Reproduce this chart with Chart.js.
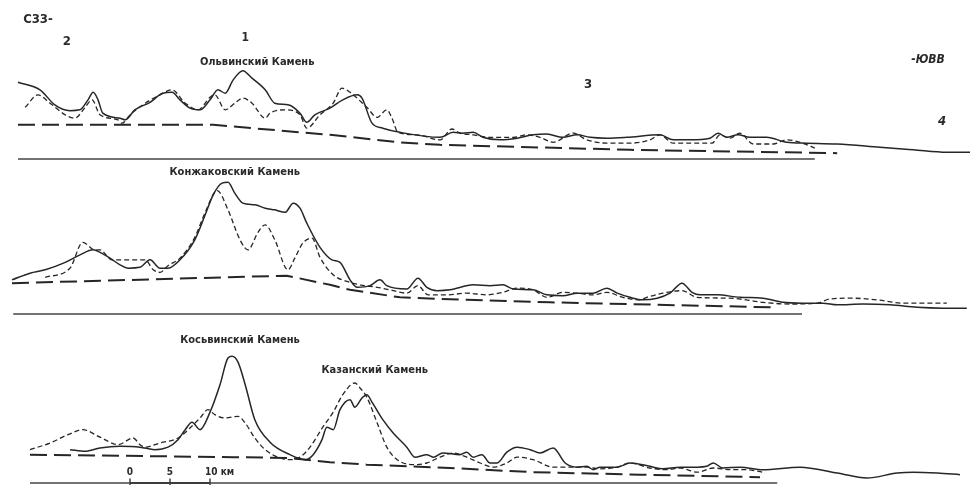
<!DOCTYPE html>
<html>
<head>
<meta charset="utf-8">
<script src="https://cdn.jsdelivr.net/npm/chart.js@4"></script>
<style>
  html, body { margin: 0; padding: 0; background: #fff; }
  #wrap { position: relative; width: 972px; height: 486px; }
</style>
</head>
<body>
<div id="wrap"><canvas id="profiles" width="972" height="486"></canvas></div>
<script>
'use strict';

/* Distance along profile (km) and height above sea level (m) */

// Profile 1 – Ольвинский Камень
const p1SolidKm = [1.0, 3.75, 5.6, 7.5, 8.75, 9.75, 10.4, 11.0, 11.6, 13.75, 14.4, 15.6, 17.5, 19.1, 20.25, 21.25, 22.5, 23.75, 25.0, 26.0, 26.9, 27.9, 29.1, 30.25, 31.9, 33.1, 34.75, 36.25, 37.1, 38.1, 40.0, 41.6, 43.4, 44.0, 45.25, 46.6, 48.75, 53.75, 55.4, 56.6, 57.9, 59.1, 61.25, 63.4, 65.4, 67.1, 69.1, 70.9, 72.5, 74.6, 77.1, 81.25, 82.9, 85.0, 87.5, 88.5, 89.6, 91.0, 92.5, 94.6, 97.1, 99.6, 103.4, 108.75, 112.9, 117.1, 120.0];
const p1SolidM  = [920, 830, 650, 580, 590, 710, 800, 710, 550, 490, 470, 590, 680, 790, 800, 710, 610, 590, 710, 830, 790, 950, 1060, 970, 830, 670, 650, 550, 440, 530, 610, 710, 770, 730, 430, 370, 320, 260, 320, 310, 320, 260, 230, 250, 290, 300, 260, 290, 260, 250, 260, 290, 230, 230, 250, 310, 260, 290, 260, 260, 200, 190, 180, 140, 110, 80, 80];
const p1DashKm  = [1.9, 3.5, 5.0, 6.9, 8.1, 9.4, 10.25, 11.25, 13.5, 14.0, 15.0, 16.9, 18.75, 20.25, 21.9, 23.5, 25.0, 25.6, 26.9, 28.1, 29.1, 30.25, 31.9, 32.5, 34.4, 36.25, 37.1, 38.75, 40.4, 41.5, 42.5, 44.6, 45.9, 47.1, 47.75, 48.5, 50.9, 53.75, 55.25, 56.25, 57.9, 60.0, 62.9, 64.6, 66.25, 67.9, 70.4, 72.1, 74.6, 77.5, 80.0, 81.25, 82.9, 87.75, 88.75, 90.0, 91.25, 92.9, 95.4, 97.1, 99.1, 100.6];
const p1DashM   = [620, 770, 670, 530, 490, 620, 710, 530, 470, 430, 530, 670, 770, 830, 670, 590, 740, 770, 590, 670, 730, 670, 490, 550, 590, 530, 370, 530, 670, 850, 800, 620, 500, 590, 490, 320, 290, 230, 360, 310, 290, 260, 260, 290, 260, 200, 310, 230, 190, 190, 230, 290, 190, 190, 290, 250, 310, 180, 180, 230, 190, 130];
const p1BaseKm  = [1.0, 25.4, 40.0, 48.75, 53.75, 77.5, 103.4];
const p1BaseM   = [410, 410, 290, 200, 170, 110, 70];
const p1SeaKm   = [1.0, 100.6];

// Profile 2 – Конжаковский Камень
const p2SolidKm = [0.25, 2.5, 4.4, 6.9, 8.75, 10.4, 11.25, 12.5, 13.75, 14.75, 16.25, 17.5, 18.75, 19.75, 21.25, 23.1, 24.4, 25.4, 26.5, 27.25, 28.1, 29.1, 30.6, 31.9, 33.1, 34.4, 35.4, 36.25, 37.1, 38.75, 40.25, 41.25, 42.5, 43.4, 45.0, 46.25, 47.1, 49.6, 51.0, 52.1, 53.4, 55.0, 57.9, 60.0, 61.6, 62.9, 65.4, 67.1, 69.1, 70.9, 72.9, 74.6, 75.9, 77.5, 79.1, 80.9, 82.5, 84.0, 85.25, 86.25, 88.4, 91.25, 94.1, 96.6, 99.1, 101.6, 103.4, 106.6, 110.0, 113.4, 116.6, 119.6];
const p2SolidM  = [410, 490, 530, 620, 710, 770, 740, 670, 590, 550, 560, 650, 550, 550, 650, 890, 1190, 1430, 1570, 1580, 1450, 1330, 1310, 1270, 1250, 1220, 1330, 1270, 1090, 800, 650, 620, 410, 320, 340, 410, 340, 300, 430, 320, 280, 290, 350, 340, 350, 300, 290, 230, 220, 250, 250, 310, 250, 200, 170, 190, 250, 370, 260, 230, 230, 200, 190, 140, 130, 130, 110, 120, 110, 80, 70, 70];
const p2DashKm  = [4.4, 7.5, 9.1, 10.6, 11.25, 12.75, 14.4, 16.9, 17.9, 18.75, 19.75, 21.25, 23.1, 24.4, 25.9, 27.25, 28.75, 29.75, 31.0, 31.9, 33.1, 34.75, 35.6, 36.6, 37.75, 38.75, 40.4, 42.5, 43.75, 45.9, 47.5, 49.6, 51.0, 52.25, 54.6, 57.1, 59.6, 61.6, 63.4, 65.4, 67.1, 69.1, 70.9, 72.9, 74.6, 76.6, 78.75, 79.6, 81.6, 84.0, 85.9, 90.0, 94.1, 97.5, 100.9, 102.5, 105.0, 108.4, 111.6, 117.1];
const p2DashM   = [440, 550, 860, 770, 770, 650, 650, 650, 530, 500, 580, 670, 920, 1220, 1480, 1250, 890, 770, 980, 1070, 890, 530, 670, 850, 910, 680, 470, 380, 350, 320, 290, 250, 340, 230, 230, 250, 230, 260, 310, 290, 200, 260, 250, 230, 260, 200, 170, 200, 250, 280, 200, 190, 140, 120, 130, 180, 190, 170, 130, 130];
const p2BaseKm  = [0.25, 34.6, 40.0, 42.5, 48.75, 57.1, 67.5, 95.4];
const p2BaseM   = [370, 460, 350, 290, 200, 170, 140, 80];
const p2SeaKm   = [0.4, 99.0];

// Profile 3 – Косьвинский и Казанский Камень
const p3SolidKm = [7.5, 9.4, 11.25, 13.75, 16.25, 18.1, 19.75, 21.0, 21.9, 22.75, 23.75, 25.0, 26.25, 27.25, 27.75, 28.5, 29.4, 30.6, 32.5, 35.0, 36.9, 37.9, 39.0, 39.6, 40.4, 41.25, 42.5, 43.1, 44.0, 44.6, 45.25, 46.6, 47.9, 49.6, 50.6, 52.1, 52.9, 54.1, 56.25, 57.1, 57.9, 59.0, 60.0, 60.9, 62.1, 63.4, 65.0, 66.25, 67.9, 69.4, 70.9, 72.1, 72.9, 73.75, 75.9, 77.5, 80.0, 81.6, 83.75, 85.9, 87.1, 87.9, 89.1, 91.25, 94.1, 98.75, 103.4, 107.1, 110.9, 112.9, 115.9, 118.75];
const p3SolidM  = [400, 380, 420, 440, 430, 400, 430, 520, 640, 730, 640, 850, 1180, 1500, 1520, 1450, 1180, 760, 490, 340, 280, 340, 520, 670, 640, 880, 1000, 910, 1020, 1060, 970, 760, 600, 430, 310, 340, 310, 360, 340, 370, 310, 340, 240, 240, 370, 430, 400, 360, 420, 240, 190, 200, 160, 190, 190, 240, 200, 170, 190, 190, 200, 240, 180, 190, 160, 190, 120, 60, 120, 130, 120, 100];
const p3DashKm  = [2.5, 5.0, 7.25, 9.1, 11.25, 13.5, 15.4, 16.25, 16.9, 18.75, 21.0, 22.5, 23.75, 24.75, 25.6, 26.9, 28.5, 29.4, 30.6, 31.9, 33.75, 35.0, 36.25, 37.5, 39.1, 40.4, 41.6, 43.1, 43.75, 44.6, 45.9, 47.1, 48.4, 50.4, 52.1, 53.75, 55.4, 57.1, 58.75, 60.4, 62.1, 63.4, 65.4, 67.9, 70.4, 72.1, 73.75, 75.9, 77.5, 80.0, 82.1, 83.75, 85.9, 87.9, 90.0, 92.1, 94.1];
const p3DashM   = [400, 480, 580, 640, 550, 460, 540, 460, 430, 480, 540, 660, 780, 880, 820, 780, 800, 720, 540, 400, 300, 280, 310, 430, 670, 850, 1060, 1200, 1140, 1030, 720, 430, 280, 220, 240, 310, 360, 310, 240, 190, 240, 310, 280, 190, 190, 190, 170, 190, 240, 180, 160, 180, 130, 180, 160, 160, 130];
const p3BaseKm  = [2.5, 27.9, 35.0, 40.0, 44.6, 55.0, 65.4, 78.75, 93.75];
const p3BaseM   = [340, 310, 300, 250, 220, 180, 130, 100, 70];
const p3SeaKm   = [2.5, 95.9];

// Scale bar: 0 – 5 – 10 km
const scaleKm     = [15, 20, 25];
const scaleLabels = ['0', '5', '10 км'];

// Captions
const captions = [
  { text: 'С33-', km: 3.5, m: 1668, axis: 'y1', size: 13 },
  { text: '2', km: 7.1, m: 1404, axis: 'y1', size: 13 },
  { text: '1', km: 29.4, m: 1452, axis: 'y1', size: 12 },
  { text: 'Ольвинский Камень', km: 30.9, m: 1164, axis: 'y1', size: 11 },
  { text: '3', km: 72.25, m: 888, axis: 'y1', size: 13 },
  { text: '-ЮВВ', km: 114.75, m: 1188, axis: 'y1', size: 12, italic: true },
  { text: '4', km: 116.5, m: 444, axis: 'y1', size: 13, italic: true },
  { text: 'Конжаковский Камень', km: 28.1, m: 1704, axis: 'y2', size: 11 },
  { text: 'Косьвинский Камень', km: 28.75, m: 1716, axis: 'y3', size: 11 },
  { text: 'Казанский Камень', km: 45.6, m: 1356, axis: 'y3', size: 11 }
];

const INK = '#262626';
const zip = (xs, ys) => xs.map((x, i) => ({ x, y: ys[i] }));
const flat = xs => xs.map(x => ({ x, y: 0 }));

function profileSets(axis, solidKm, solidM, dashKm, dashM, baseKm, baseM, seaKm) {
  return [
    { data: zip(solidKm, solidM), yAxisID: axis, borderColor: INK, borderWidth: 1.5, cubicInterpolationMode: 'monotone' },
    { data: zip(dashKm, dashM), yAxisID: axis, borderColor: INK, borderWidth: 1.3, borderDash: [5, 3], cubicInterpolationMode: 'monotone' },
    { data: zip(baseKm, baseM), yAxisID: axis, borderColor: INK, borderWidth: 2, borderDash: [17, 7], tension: 0 },
    { data: flat(seaKm), yAxisID: axis, borderColor: '#444', borderWidth: 1.3, tension: 0 }
  ];
}

const datasets = [
  ...profileSets('y1', p1SolidKm, p1SolidM, p1DashKm, p1DashM, p1BaseKm, p1BaseM, p1SeaKm),
  ...profileSets('y2', p2SolidKm, p2SolidM, p2DashKm, p2DashM, p2BaseKm, p2BaseM, p2SeaKm),
  ...profileSets('y3', p3SolidKm, p3SolidM, p3DashKm, p3DashM, p3BaseKm, p3BaseM, p3SeaKm),
  { data: flat([scaleKm[0], scaleKm[scaleKm.length - 1]]), yAxisID: 'y3', borderColor: INK, borderWidth: 2, tension: 0 }
];
scaleKm.forEach(km => {
  datasets.push({ data: [{ x: km, y: -25 }, { x: km, y: 55 }], yAxisID: 'y3', borderColor: INK, borderWidth: 1.3, tension: 0 });
});
datasets.forEach(d => { d.pointRadius = 0; d.fill = false; });

// Text captions & scale numbers, placed through the chart scales
const captionPlugin = {
  id: 'captions',
  afterDatasetsDraw(chart) {
    const { ctx, scales } = chart;
    ctx.save();
    ctx.fillStyle = '#2a2a2a';
    ctx.textBaseline = 'middle';
    ctx.textAlign = 'center';
    captions.forEach(c => {
      ctx.font = `${c.italic ? 'italic ' : ''}bold ${c.size}px "DejaVu Sans Condensed", "Liberation Sans Narrow", sans-serif`;
      ctx.fillText(c.text, scales.x.getPixelForValue(c.km), scales[c.axis].getPixelForValue(c.m));
    });
    ctx.font = 'bold 10px "DejaVu Sans Condensed", "Liberation Sans Narrow", sans-serif';
    scaleKm.forEach((km, i) => {
      const isLast = i === scaleKm.length - 1;
      ctx.textAlign = isLast ? 'left' : 'center';
      const px = scales.x.getPixelForValue(km) - (isLast ? 5 : 0);
      ctx.fillText(scaleLabels[i], px, scales.y3.getPixelForValue(132));
    });
    ctx.restore();
  }
};

new Chart(document.getElementById('profiles').getContext('2d'), {
  type: 'line',
  data: { datasets },
  options: {
    responsive: false,
    animation: false,
    events: [],
    layout: { padding: 0 },
    plugins: { legend: { display: false }, tooltip: { enabled: false } },
    scales: {
      x:  { type: 'linear', min: -1.25, max: 120.25, display: false },
      y1: { type: 'linear', min: -3924, max: 1908, display: false },
      y2: { type: 'linear', min: -2064, max: 3768, display: false },
      y3: { type: 'linear', min: -36, max: 5796, display: false }
    }
  },
  plugins: [captionPlugin]
});
</script>
</body>
</html>
